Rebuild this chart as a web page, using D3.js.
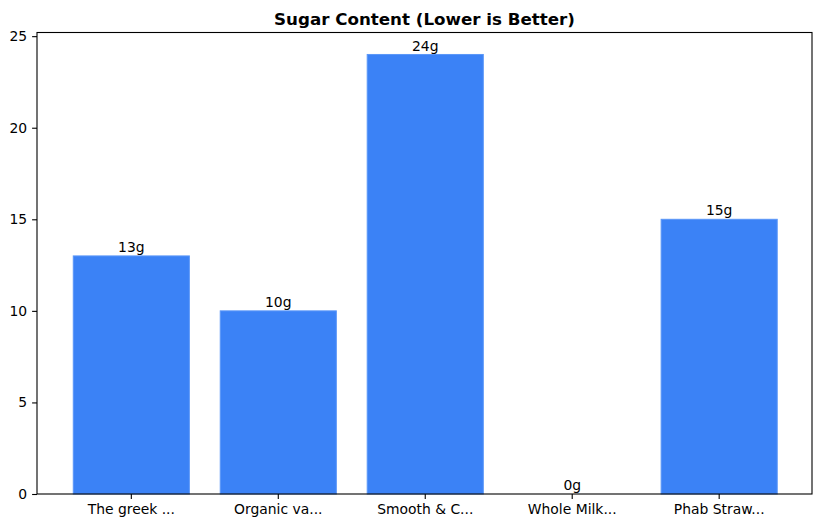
<!DOCTYPE html>
<html>
<head>
<meta charset="utf-8">
<script src="https://cdn.jsdelivr.net/npm/d3@7"></script>
<style>
  body { margin: 0; background: #fff; }
  text { font-family: "DejaVu Sans", sans-serif; fill: #000; }
</style>
</head>
<body>
<div id="chart"></div>
<script>
// sugar per product, grams
let products = ["The greek ...", "Organic va...", "Smooth & C...", "Whole Milk...", "Phab Straw..."];
let sugar = [13, 10, 24, 0, 15];
let yTicks = [0, 5, 10, 15, 20, 25];

function graph(id) {
    let width = 822, height = 528;
    let left = 37, right = 812, top = 32.5, bottom = 494;

    let data = products.map((p, i) => ({ name: p, value: sugar[i] }));

    let svg = d3.select(id).append("svg")
            .attr("width", width)
            .attr("height", height);

    // band layout mimics matplotlib bar width 0.8 with 5% margins
    let x = d3.scaleBand().domain(products)
                .range([left + 1, right + 0.5])
                .paddingInner(0.21)
                .paddingOuter(0.24);
    let y = d3.scaleLinear().domain([0, d3.max(sugar) * 1.05])
                .range([bottom, top]);

    svg.selectAll("rect.bar")
        .data(data)
        .enter()
        .append("rect")
        .attr("class", "bar")
        .attr("x", (d) => x(d.name))
        .attr("width", x.bandwidth())
        .attr("y", (d) => y(d.value))
        .attr("height", (d) => y(0) - y(d.value))
        .style("fill", "#3b82f6")
        .style("stroke", "#5b97f8")
        .style("stroke-width", 1);

    // value labels on top of bars
    svg.selectAll("text.val")
        .data(data)
        .enter()
        .append("text")
        .attr("class", "val")
        .attr("x", (d) => x(d.name) + x.bandwidth() / 2)
        .attr("y", (d) => y(d.value) - 3.8)
        .attr("text-anchor", "middle")
        .style("font-size", "13.9px")
        .text((d) => d.value + "g");

    let xAxis = svg.append("g")
            .attr("transform", `translate(0,${bottom})`)
            .call(d3.axisBottom(x).tickSize(4.9).tickPadding(4.9).tickSizeOuter(0));
    let yAxis = svg.append("g")
            .attr("transform", `translate(${left},0)`)
            .call(d3.axisLeft(y).tickValues(yTicks).tickSize(4.9).tickPadding(4.9).tickSizeOuter(0));

    [xAxis, yAxis].forEach((g) => {
        g.select(".domain").remove();
        g.selectAll(".tick line").attr("stroke", "#000").attr("stroke-width", 1.1);
        g.selectAll(".tick text").style("font-size", "13.9px").attr("font-family", null);
    });

    // frame around the plot area
    svg.append("rect")
        .attr("x", left)
        .attr("y", top)
        .attr("width", right - left)
        .attr("height", bottom - top)
        .style("fill", "none")
        .style("stroke", "#000")
        .style("stroke-width", 1.1);

    svg.append("text")
        .attr("x", (left + right) / 2)
        .attr("y", 24.5)
        .attr("text-anchor", "middle")
        .style("font-size", "16.7px")
        .style("font-weight", "bold")
        .text("Sugar Content (Lower is Better)");
}

graph("#chart");
</script>
</body>
</html>
